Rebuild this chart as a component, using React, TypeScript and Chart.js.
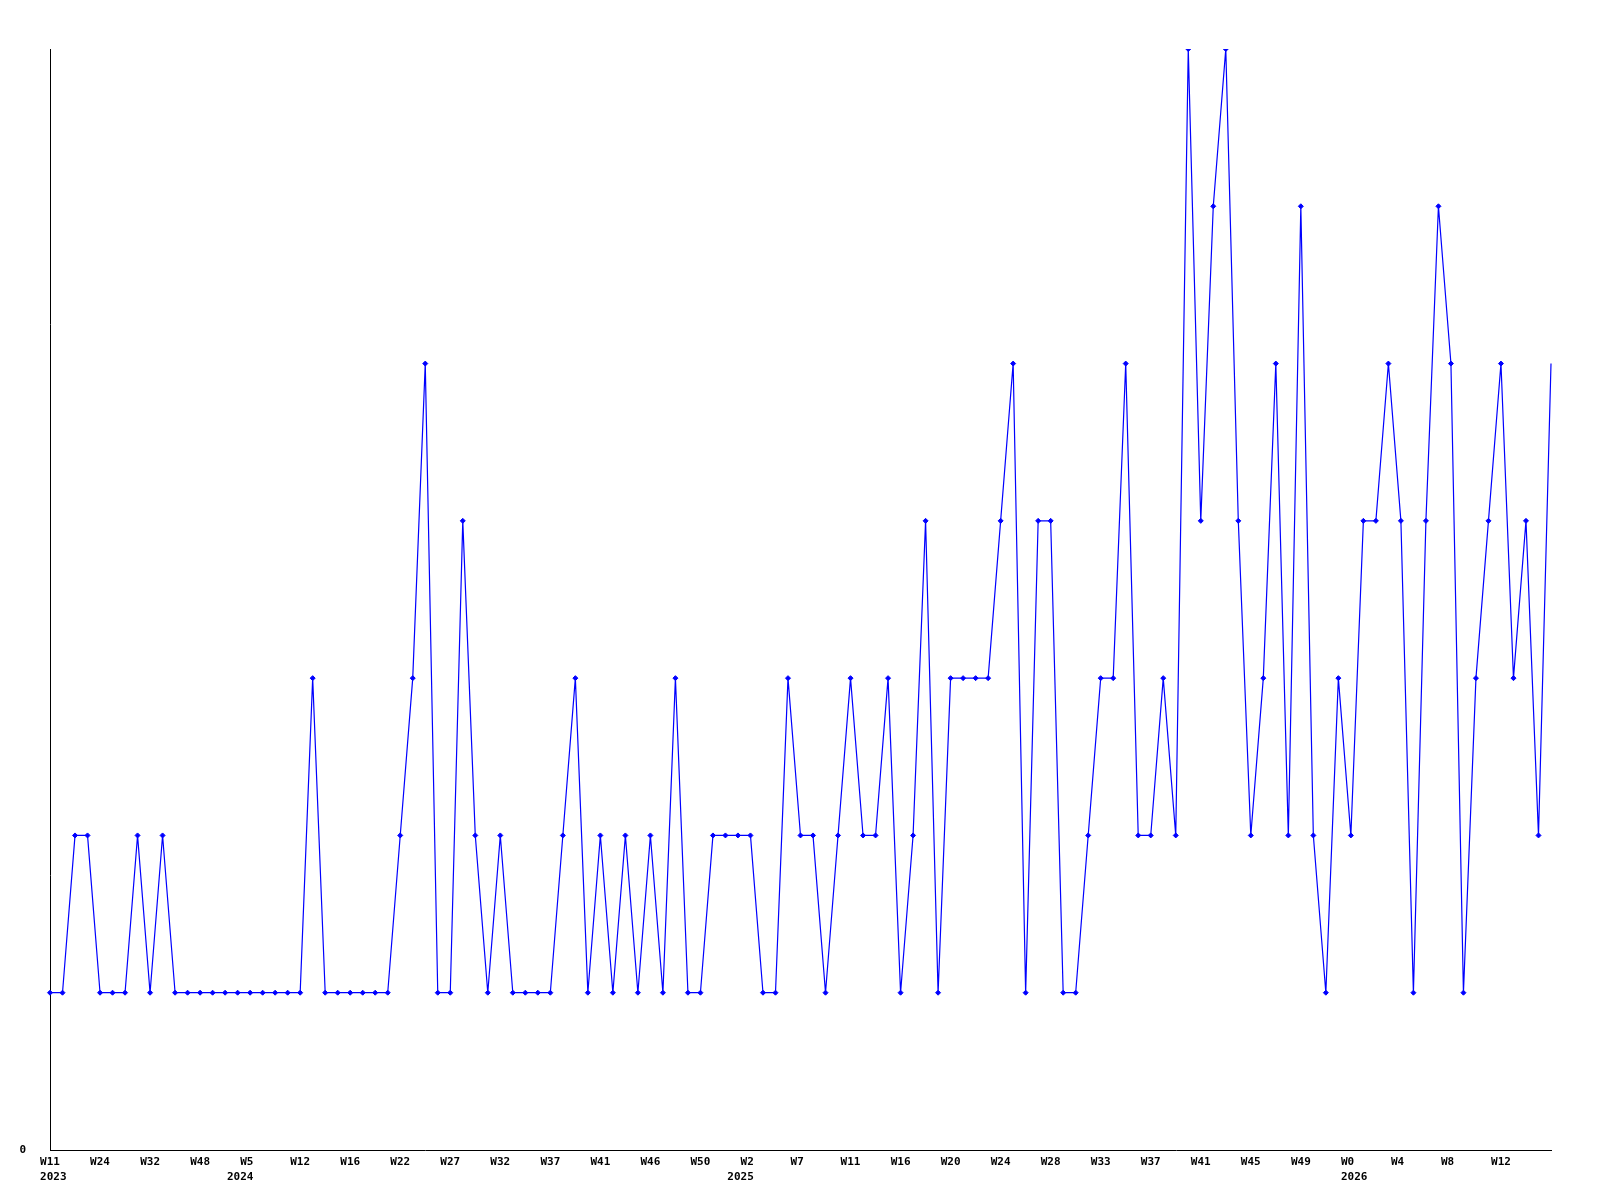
import { useEffect, useRef } from "react";
import { Chart, registerables } from "chart.js";

Chart.register(...registerables);

// Weekly counts, one entry per category (121 points)
const values: number[] = [
  1, 1, 2, 2, 1, 1, 1, 2, 1, 2,
  1, 1, 1, 1, 1, 1, 1, 1, 1, 1,
  1, 3, 1, 1, 1, 1, 1, 1, 2, 3,
  5, 1, 1, 4, 2, 1, 2, 1, 1, 1,
  1, 2, 3, 1, 2, 1, 2, 1, 2, 1,
  3, 1, 1, 2, 2, 2, 2, 1, 1, 3,
  2, 2, 1, 2, 3, 2, 2, 3, 1, 2,
  4, 1, 3, 3, 3, 3, 4, 5, 1, 4,
  4, 1, 1, 2, 3, 3, 5, 2, 2, 3,
  2, 7, 4, 6, 7, 4, 2, 3, 5, 2,
  6, 2, 1, 3, 2, 4, 4, 5, 4, 1,
  4, 6, 5, 1, 3, 4, 5, 3, 4, 2,
  5,
];

// Tick labels shown on every 4th category
const tickLabels: (string | string[])[] = [
  ["W11", " 2023"], "W24", "W32", "W48",
  ["W5 ", "2024   "], "W12", "W16", "W22",
  "W27", "W32", "W37", "W41",
  "W46", "W50", ["W2 ", "2025   "], "W7 ",
  "W11", "W16", "W20", "W24",
  "W28", "W33", "W37", "W41",
  "W45", "W49", ["W0 ", " 2026"], "W4 ",
  "W8 ", "W12",
];
const labelEvery = 4;
const categories: string[] = values.map((_, i) => String(i));

const yMin = 0;
const yMax = 7;

export default function App() {
  const ref = useRef<HTMLCanvasElement | null>(null);

  useEffect(() => {
    if (!ref.current) return;
    const font = { family: "'DejaVu Sans Mono', monospace", size: 11, weight: "bold" as const, lineHeight: "15px" };
    const chart = new Chart(ref.current, {
      type: "line",
      data: {
        labels: categories,
        datasets: [
          {
            data: values,
            borderColor: "#0000ff",
            backgroundColor: "#0000ff",
            borderWidth: 1.2,
            tension: 0,
            fill: false,
            pointStyle: "rectRot",
            pointRadius: (ctx: any) => (ctx.dataIndex === values.length - 1 ? 0 : 2.5),
            pointBorderWidth: 1,
            pointBorderColor: "#0000ff",
            pointBackgroundColor: "#0000ff",
          },
        ],
      },
      options: {
        animation: false,
        responsive: false,
        devicePixelRatio: 1,
        layout: { padding: { top: 49, right: 49, bottom: 0, left: 0 } },
        plugins: { legend: { display: false }, tooltip: { enabled: false }, title: { display: false } },
        scales: {
          x: {
            type: "category",
            offset: false,
            grid: { display: false, drawTicks: false },
            border: { display: true, color: "#000000", width: 1 },
            ticks: {
              autoSkip: false,
              maxRotation: 0,
              minRotation: 0,
              padding: 5,
              color: "#000000",
              font,
              callback: (_v: any, index: number) =>
                index % labelEvery === 0 && tickLabels[index / labelEvery] !== undefined
                  ? tickLabels[index / labelEvery]
                  : "",
            },
            afterFit: (scale: any) => {
              scale.height = 50;
            },
          },
          y: {
            min: yMin,
            max: yMax,
            grid: { display: false, drawTicks: false },
            border: { display: true, color: "#000000", width: 1 },
            ticks: {
              stepSize: 1,
              padding: 24,
              color: "#000000",
              font,
              callback: (v: any) => (Number(v) === 0 ? "0" : ""),
            },
            afterFit: (scale: any) => {
              scale.width = 50;
            },
          },
        },
      },
    });
    return () => chart.destroy();
  }, []);

  return (
    <div style={{ position: "absolute", left: 0, top: 0, width: 1600, height: 1200, background: "#ffffff" }}>
      <canvas ref={ref} width={1600} height={1200} style={{ width: 1600, height: 1200 }} />
    </div>
  );
}
